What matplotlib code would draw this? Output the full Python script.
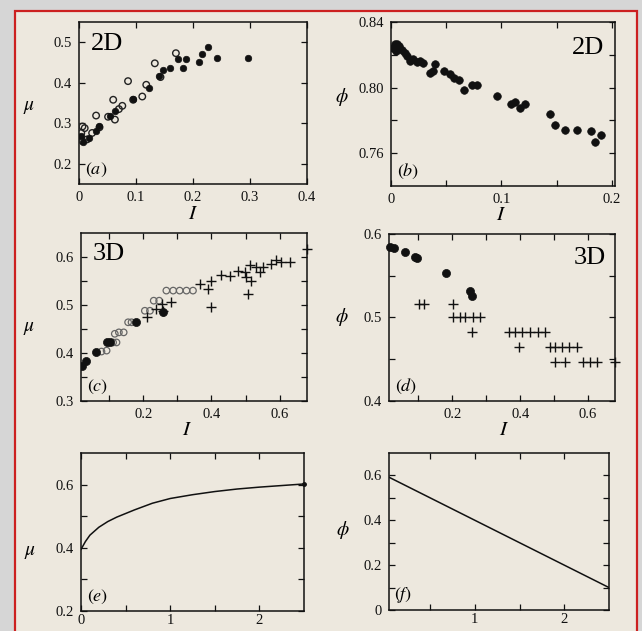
import matplotlib
matplotlib.use("Agg")
import matplotlib.pyplot as plt
from matplotlib.patches import Rectangle
from matplotlib.ticker import MultipleLocator, FixedLocator

plt.rcParams['font.family'] = ['Liberation Serif', 'DejaVu Serif']
plt.rcParams['mathtext.fontset'] = 'stix'

# ---------------- data ----------------
# (a) 2D mu(I)
a_filled_I = [0.296, 0.242, 0.227, 0.216, 0.210, 0.188, 0.182, 0.173, 0.160, 0.147,
              0.140, 0.123, 0.095, 0.063, 0.054, 0.035, 0.029, 0.018, 0.007, 0.004]
a_filled_mu = [0.462, 0.461, 0.488, 0.470, 0.452, 0.458, 0.437, 0.458, 0.436, 0.432,
               0.416, 0.387, 0.361, 0.331, 0.317, 0.294, 0.280, 0.264, 0.253, 0.268]
a_open_I = [0.170, 0.133, 0.118, 0.143, 0.111, 0.086, 0.095, 0.060, 0.076, 0.070,
            0.051, 0.030, 0.036, 0.023, 0.010, 0.006, 0.004, 0.006, 0.014, 0.063]
a_open_mu = [0.473, 0.448, 0.395, 0.414, 0.366, 0.404, 0.358, 0.358, 0.343, 0.335,
             0.316, 0.319, 0.290, 0.276, 0.288, 0.292, 0.276, 0.256, 0.260, 0.309]

# (b) 2D phi(I)
b_I = [0.0015, 0.0036, 0.0058, 0.0076, 0.0045, 0.0097, 0.0127, 0.0148, 0.0173, 0.0203,
       0.0233, 0.0264, 0.0294, 0.0355, 0.0400, 0.0385, 0.0482, 0.0536, 0.0567, 0.0612,
       0.0658, 0.0733, 0.0779, 0.0960, 0.1090, 0.1127, 0.1173, 0.1218, 0.1445, 0.1490,
       0.1580, 0.1690, 0.1815, 0.1845, 0.1906]
b_phi = [0.8244, 0.8264, 0.8268, 0.8254, 0.8224, 0.8228, 0.8214, 0.8194, 0.8164, 0.8174,
         0.8154, 0.8164, 0.8148, 0.8088, 0.8144, 0.8104, 0.8100, 0.8080, 0.8060, 0.8044,
         0.7988, 0.8014, 0.8014, 0.7950, 0.7898, 0.7914, 0.7874, 0.7898, 0.7838, 0.7770,
         0.7740, 0.7744, 0.7738, 0.7668, 0.7708]

# (c) 3D mu(I)
c_filled_I = [0.0195, 0.032, 0.063, 0.093, 0.102, 0.180, 0.259]
c_filled_mu = [0.373, 0.384, 0.403, 0.423, 0.423, 0.464, 0.486]
c_open_I = [0.078, 0.093, 0.112, 0.122, 0.117, 0.129, 0.143, 0.156, 0.166, 0.205,
            0.220, 0.231, 0.247, 0.268, 0.288, 0.307, 0.327, 0.346]
c_open_mu = [0.403, 0.405, 0.422, 0.422, 0.440, 0.443, 0.443, 0.464, 0.464, 0.488,
             0.488, 0.509, 0.509, 0.530, 0.530, 0.530, 0.530, 0.530]
c_plus_I = [0.210, 0.239, 0.254, 0.283, 0.259, 0.366, 0.390, 0.400, 0.400, 0.429,
            0.454, 0.478, 0.498, 0.502, 0.517, 0.507, 0.512, 0.532, 0.541, 0.551,
            0.576, 0.590, 0.605, 0.629, 0.680]
c_plus_mu = [0.474, 0.492, 0.502, 0.506, 0.488, 0.544, 0.534, 0.495, 0.551, 0.562,
             0.560, 0.570, 0.569, 0.558, 0.551, 0.522, 0.583, 0.579, 0.569, 0.579,
             0.586, 0.593, 0.590, 0.590, 0.617]

# (d) 3D phi(I)
d_filled_I = [0.0158, 0.0276, 0.060, 0.090, 0.097, 0.180, 0.252, 0.257]
d_filled_phi = [0.585, 0.583, 0.578, 0.572, 0.571, 0.553, 0.532, 0.526]
d_plus_I = [0.102, 0.116, 0.203,
            0.203, 0.223, 0.237, 0.262, 0.282,
            0.257, 0.366, 0.385, 0.405, 0.430, 0.454, 0.474,
            0.397, 0.489, 0.503, 0.523, 0.543, 0.567,
            0.503, 0.533, 0.587, 0.605, 0.627, 0.681]
d_plus_phi = [0.516, 0.516, 0.516,
              0.500, 0.500, 0.500, 0.500, 0.500,
              0.483, 0.483, 0.483, 0.483, 0.483, 0.483, 0.483,
              0.465, 0.465, 0.465, 0.465, 0.465, 0.465,
              0.447, 0.447, 0.447, 0.447, 0.447, 0.447]

# (e) mu(I) curve
e_I = [0, 0.02, 0.05, 0.1, 0.2, 0.3, 0.4, 0.6, 0.8, 1.0, 1.25, 1.5, 1.75, 2.0, 2.25, 2.5]
e_mu = [0.395, 0.405, 0.42, 0.44, 0.465, 0.483, 0.497, 0.52, 0.541, 0.556, 0.568,
        0.578, 0.586, 0.592, 0.597, 0.602]

# (f) phi(I) line
f_I = [0.04, 2.5]
f_phi = [0.592, 0.10]

# ---------------- figure ----------------
W, H = 642, 631
fig = plt.figure(figsize=(W / 100, H / 100), dpi=100, facecolor='#d6d6d6')
bg = Rectangle((15 / W, -0.01), (637 - 15) / W, 1 - 11 / H + 0.01,
               transform=fig.transFigure, facecolor='#ede8de', edgecolor='#cc2020',
               linewidth=1.6, zorder=-10)
fig.patches.append(bg)


def px_axes(x0, x1, y0, y1):
    return fig.add_axes([x0 / W, 1 - y1 / H, (x1 - x0) / W, (y1 - y0) / H])


def style(ax):
    ax.set_facecolor('none')
    for s in ax.spines.values():
        s.set_linewidth(1.1)
        s.set_color('#111111')
    ax.tick_params(which='both', direction='in', top=True, right=True,
                   labelsize=10.5, colors='#111111', pad=5)
    ax.tick_params(which='major', length=4.5, width=0.9)
    ax.tick_params(which='minor', length=4.5, width=0.9)


def labels(ax, ylab, ycoords, xlab_coords=None):
    ax.set_ylabel(ylab, rotation=0, fontsize=14, va='center', ha='center')
    ax.yaxis.set_label_coords(*ycoords)
    if xlab_coords is not None:
        ax.set_xlabel('$I$', fontsize=15, va='top')
        ax.xaxis.set_label_coords(*xlab_coords)


dot_kw = dict(s=22, c='#111111', edgecolors='#111111', linewidths=0.5, zorder=3)
open_kw = dict(s=22, facecolors='none', edgecolors='#222222', linewidths=1.0, zorder=3)
plus_kw = dict(s=45, marker='+', c='#111111', linewidths=1.0, zorder=3, clip_on=False)

# (a)
ax = px_axes(79, 307, 22, 184)
style(ax)
ax.scatter(a_open_I, a_open_mu, **open_kw)
ax.scatter(a_filled_I, a_filled_mu, **dot_kw)
ax.set_xlim(0, 0.4)
ax.set_ylim(0.15, 0.55)
ax.xaxis.set_major_locator(FixedLocator([0, 0.1, 0.2, 0.3, 0.4]))
ax.set_xticklabels(['0', '0.1', '0.2', '0.3', '0.4'])
ax.yaxis.set_major_locator(FixedLocator([0.2, 0.3, 0.4, 0.5]))
ax.set_yticklabels(['0.2', '0.3', '0.4', '0.5'])
ax.text(0.05, 0.93, '2D', transform=ax.transAxes, fontsize=19, ha='left', va='top')
ax.text(0.025, 0.03, '$(a)$', transform=ax.transAxes, fontsize=13, ha='left', va='bottom')
labels(ax, r'$\mu$', (-0.22, 0.47), (0.5, -0.13))

# (b)
ax = px_axes(391, 615, 22, 186)
style(ax)
ax.scatter(b_I, b_phi, s=30, c='#111111', edgecolors='#111111', linewidths=0.5, zorder=3)
ax.set_xlim(0, 0.203)
ax.set_ylim(0.74, 0.84)
ax.xaxis.set_major_locator(FixedLocator([0, 0.1, 0.2]))
ax.set_xticklabels(['0', '0.1', '0.2'])
ax.xaxis.set_minor_locator(FixedLocator([0.05, 0.15]))
ax.yaxis.set_major_locator(FixedLocator([0.76, 0.80, 0.84]))
ax.set_yticklabels(['0.76', '0.80', '0.84'])
ax.yaxis.set_minor_locator(FixedLocator([0.78, 0.82]))
ax.text(0.95, 0.91, '2D', transform=ax.transAxes, fontsize=19, ha='right', va='top')
ax.text(0.025, 0.03, '$(b)$', transform=ax.transAxes, fontsize=13, ha='left', va='bottom')
labels(ax, r'$\phi$', (-0.22, 0.54), (0.49, -0.12))

# (c)
ax = px_axes(81, 307, 233, 401)
style(ax)
ax.scatter(c_open_I, c_open_mu, s=22, facecolors='none', edgecolors='#666666',
           linewidths=0.9, zorder=3)
ax.scatter(c_plus_I, c_plus_mu, **plus_kw)
ax.scatter(c_filled_I, c_filled_mu, s=34, c='#111111', edgecolors='#111111',
           linewidths=0.5, zorder=4)
ax.set_xlim(0.018, 0.68)
ax.set_ylim(0.3, 0.65)
ax.xaxis.set_major_locator(FixedLocator([0.2, 0.4, 0.6]))
ax.set_xticklabels(['0.2', '0.4', '0.6'])
ax.xaxis.set_minor_locator(FixedLocator([0.1, 0.3, 0.5]))
ax.yaxis.set_major_locator(FixedLocator([0.3, 0.4, 0.5, 0.6]))
ax.set_yticklabels(['0.3', '0.4', '0.5', '0.6'])
ax.yaxis.set_minor_locator(FixedLocator([0.35, 0.45, 0.55]))
ax.text(0.05, 0.94, '3D', transform=ax.transAxes, fontsize=19, ha='left', va='top')
ax.text(0.025, 0.03, '$(c)$', transform=ax.transAxes, fontsize=13, ha='left', va='bottom')
labels(ax, r'$\mu$', (-0.23, 0.43), (0.47, -0.12))

# (d)
ax = px_axes(389, 615, 234, 401)
style(ax)
ax.scatter(d_plus_I, d_plus_phi, **plus_kw)
ax.scatter(d_filled_I, d_filled_phi, s=34, c='#111111', edgecolors='#111111',
           linewidths=0.5, zorder=4, clip_on=False)
ax.set_xlim(0.013, 0.68)
ax.set_ylim(0.4, 0.6)
ax.xaxis.set_major_locator(FixedLocator([0.2, 0.4, 0.6]))
ax.set_xticklabels(['0.2', '0.4', '0.6'])
ax.xaxis.set_minor_locator(FixedLocator([0.1, 0.3, 0.5]))
ax.yaxis.set_major_locator(FixedLocator([0.4, 0.5, 0.6]))
ax.set_yticklabels(['0.4', '0.5', '0.6'])
ax.yaxis.set_minor_locator(FixedLocator([0.45, 0.55]))
ax.text(0.96, 0.92, '3D', transform=ax.transAxes, fontsize=19, ha='right', va='top')
ax.text(0.025, 0.03, '$(d)$', transform=ax.transAxes, fontsize=13, ha='left', va='bottom')
labels(ax, r'$\phi$', (-0.21, 0.50), (0.51, -0.12))

# (e)
ax = px_axes(81, 304, 453, 611)
style(ax)
ax.plot(e_I, e_mu, color='#111111', linewidth=1.1, zorder=3)
ax.plot(e_I[-1:], e_mu[-1:], 'o', color='#111111', markersize=2.5, clip_on=False)
ax.set_xlim(0, 2.5)
ax.set_ylim(0.2, 0.7)
ax.xaxis.set_major_locator(FixedLocator([0, 1, 2]))
ax.set_xticklabels(['0', '1', '2'])
ax.xaxis.set_minor_locator(FixedLocator([0.5, 1.5]))
ax.yaxis.set_major_locator(FixedLocator([0.2, 0.4, 0.6]))
ax.set_yticklabels(['0.2', '0.4', '0.6'])
ax.yaxis.set_minor_locator(FixedLocator([0.3, 0.5]))
ax.tick_params(axis='x', pad=2)
ax.text(0.025, 0.03, '$(e)$', transform=ax.transAxes, fontsize=13, ha='left', va='bottom')
labels(ax, r'$\mu$', (-0.23, 0.37))

# (f)
ax = px_axes(389, 609, 453, 610)
style(ax)
ax.plot(f_I, f_phi, color='#111111', linewidth=1.1, zorder=3)
ax.set_xlim(0.04, 2.5)
ax.set_ylim(0, 0.7)
ax.xaxis.set_major_locator(FixedLocator([1, 2]))
ax.set_xticklabels(['1', '2'])
ax.xaxis.set_minor_locator(FixedLocator([0.5, 1.5]))
ax.yaxis.set_major_locator(FixedLocator([0, 0.2, 0.4, 0.6]))
ax.set_yticklabels(['0', '0.2', '0.4', '0.6'])
ax.yaxis.set_minor_locator(FixedLocator([0.1, 0.3, 0.5]))
ax.tick_params(axis='x', pad=2)
ax.text(0.025, 0.03, '$(f)$', transform=ax.transAxes, fontsize=13, ha='left', va='bottom')
labels(ax, r'$\phi$', (-0.21, 0.51))

fig.savefig('out.png', dpi=100, facecolor=fig.get_facecolor())
